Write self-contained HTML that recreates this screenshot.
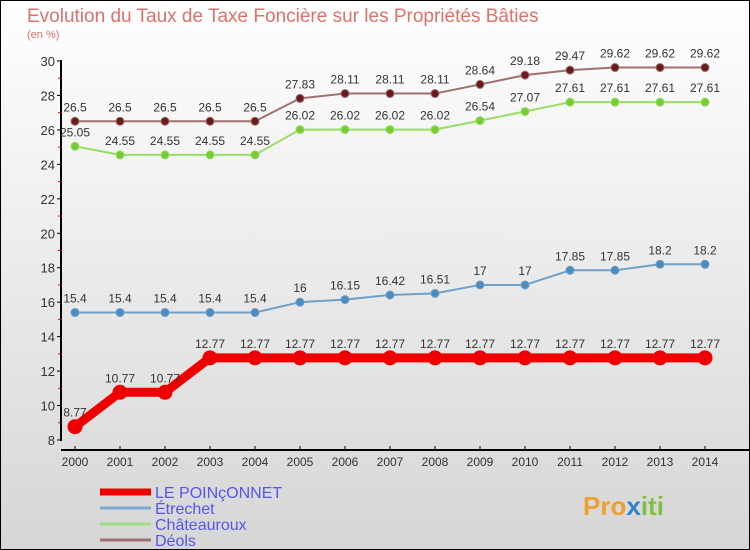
<!DOCTYPE html>
<html><head><meta charset="utf-8"><style>
body{margin:0;width:750px;height:550px;overflow:hidden;font-family:"Liberation Sans",sans-serif}
#c{position:absolute;left:0;top:0;width:748px;height:548px;border:1px solid #000;background:linear-gradient(#fff,#d6d6d6)}
</style></head><body>
<div id="c"></div>
<svg id="s" width="750" height="550" style="position:absolute;left:0;top:0" font-family="Liberation Sans, sans-serif">
<text x="27" y="22" font-size="19" fill="#e0706a">Evolution du Taux de Taxe Foncière sur les Propriétés Bâties</text>
<text x="27" y="38" font-size="11" fill="#e0706a">(en %)</text>
<g id="g"></g>
<text x="583" y="515" font-size="26" font-weight="bold" fill="#f0a030">Pro<tspan fill="#3080d0">x</tspan><tspan fill="#80c040">iti</tspan></text>
</svg>
<script>
const years=[2000,2001,2002,2003,2004,2005,2006,2007,2008,2009,2010,2011,2012,2013,2014];
const yTicks=[8,10,12,14,16,18,20,22,24,26,28,30];
const poinconnet=[8.77,10.77,10.77,12.77,12.77,12.77,12.77,12.77,12.77,12.77,12.77,12.77,12.77,12.77,12.77];
const etrechet=[15.4,15.4,15.4,15.4,15.4,16,16.15,16.42,16.51,17,17,17.85,17.85,18.2,18.2];
const chateauroux=[25.05,24.55,24.55,24.55,24.55,26.02,26.02,26.02,26.02,26.54,27.07,27.61,27.61,27.61,27.61];
const deols=[26.5,26.5,26.5,26.5,26.5,27.83,28.11,28.11,28.11,28.64,29.18,29.47,29.62,29.62,29.62];
const NS='http://www.w3.org/2000/svg',g=document.getElementById('g');
const X=y=>75+(y-2000)*45, Y=v=>440-(v-8)*(379/22);
function el(t,a,p){const e=document.createElementNS(NS,t);for(const k in a)e.setAttribute(k,a[k]);(p||g).appendChild(e);return e;}
let e=el('line',{x1:61,y1:60,x2:61,y2:441,stroke:'#000','stroke-width':2});

e=el('line',{x1:61,y1:450,x2:750,y2:450,stroke:'#000','stroke-width':2});

yTicks.forEach(v=>{
 el('line',{x1:57,y1:Y(v),x2:61,y2:Y(v),stroke:'#000'});
 if(v<30)el('line',{x1:58,y1:Y(v+1),x2:61,y2:Y(v+1),stroke:'#e00'});
 const t=el('text',{x:55,y:Y(v)+5,'text-anchor':'end','font-size':13,fill:'#333'});t.textContent=v;
 
});
years.forEach(y=>{
 el('line',{x1:X(y),y1:446,x2:X(y),y2:450,stroke:'#000'});
 const t=el('text',{x:X(y),y:466,'text-anchor':'middle','font-size':12,fill:'#333'});t.textContent=y;
 
});
function series(d,name,lc,dc,w,r){
 const p=el('polyline',{points:d.map((v,i)=>X(years[i])+','+Y(v)).join(' '),fill:'none',stroke:lc,'stroke-width':w,'stroke-linejoin':'round'});
 
 d.forEach((v,i)=>{
  const c=el('circle',{cx:X(years[i]),cy:Y(v),r:r,fill:dc,stroke:lc,'stroke-width':1});
  
  const t=el('text',{x:X(years[i]),y:Y(v)-10,'text-anchor':'middle','font-size':12,fill:'#333'});t.textContent=v;
  
 });
}
series(deols,'deols','#a07070','#6a1a1a',2,4);
series(chateauroux,'chateauroux','#99dd66','#77cc33',2,4);
series(etrechet,'etrechet','#6fa0c8','#4b8bc0',2,4);
series(poinconnet,'le-poinconnet','#ee0000','#ee0000',9,7);
const legend=[['LE POINçONNET','#ee0000',7],['Étrechet','#7aaad0',3],['Châteauroux','#a0dd80',3],['Déols','#a07070',3]];
legend.forEach((l,i)=>{
 const y=492+i*16;
 let ln=el('line',{x1:100,y1:y,x2:151,y2:y,stroke:l[1],'stroke-width':l[2]});
 
 const t=el('text',{x:155,y:y+6,'font-size':16,fill:'#5555ee'});t.textContent=l[0];
 
});
</script>
</body></html>
